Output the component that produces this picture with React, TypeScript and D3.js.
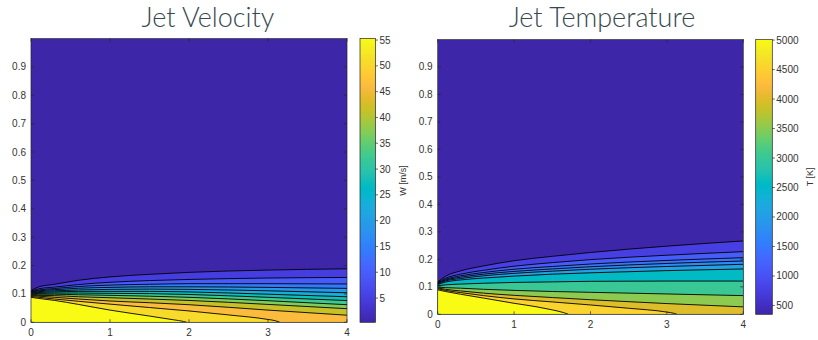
import React from 'react';
import * as d3 from 'd3';

// MATLAB parula (R2014b) colormap, 64 entries
const PARULA: number[][] = [
  [0.2422, 0.1504, 0.6603], [0.2504, 0.165, 0.7076], [0.2578, 0.1818, 0.7511], [0.2647, 0.1978, 0.7952],
  [0.2706, 0.2147, 0.8364], [0.2751, 0.2342, 0.871], [0.2783, 0.2559, 0.8991], [0.2803, 0.2782, 0.9221],
  [0.2813, 0.3006, 0.9414], [0.281, 0.3228, 0.9579], [0.2795, 0.3447, 0.9717], [0.276, 0.3667, 0.9829],
  [0.2699, 0.3892, 0.9906], [0.2602, 0.4123, 0.9952], [0.244, 0.4358, 0.9988], [0.2206, 0.4603, 0.9973],
  [0.1963, 0.4847, 0.9892], [0.1834, 0.5074, 0.9798], [0.1786, 0.5289, 0.9682], [0.1764, 0.5499, 0.952],
  [0.1687, 0.5703, 0.9359], [0.154, 0.5902, 0.9218], [0.146, 0.6091, 0.9079], [0.138, 0.6276, 0.8973],
  [0.1248, 0.6459, 0.8883], [0.1113, 0.6635, 0.8763], [0.0952, 0.6798, 0.8598], [0.0689, 0.6948, 0.8394],
  [0.0297, 0.7082, 0.8163], [0.0036, 0.7203, 0.7917], [0.0067, 0.7312, 0.766], [0.0433, 0.7411, 0.7394],
  [0.0964, 0.75, 0.712], [0.1408, 0.7584, 0.6842], [0.1717, 0.767, 0.6554], [0.1938, 0.7758, 0.6251],
  [0.2161, 0.7843, 0.5923], [0.247, 0.7918, 0.5567], [0.2906, 0.7973, 0.5188], [0.3406, 0.8008, 0.4789],
  [0.3909, 0.8029, 0.4354], [0.4456, 0.8024, 0.3909], [0.5044, 0.7993, 0.348], [0.5616, 0.7942, 0.3045],
  [0.6174, 0.7876, 0.2612], [0.672, 0.7793, 0.2227], [0.7242, 0.7698, 0.191], [0.7738, 0.7598, 0.1646],
  [0.8203, 0.7498, 0.1535], [0.8634, 0.7406, 0.1596], [0.9035, 0.733, 0.1774], [0.9393, 0.7288, 0.21],
  [0.9728, 0.7298, 0.2394], [0.9956, 0.7434, 0.2371], [0.997, 0.7659, 0.2199], [0.9952, 0.7893, 0.2028],
  [0.9892, 0.8136, 0.1885], [0.9786, 0.8386, 0.1766], [0.9676, 0.8639, 0.1643], [0.961, 0.889, 0.1537],
  [0.9597, 0.9135, 0.1423], [0.9628, 0.9373, 0.1265], [0.9691, 0.9606, 0.1064], [0.9769, 0.9839, 0.0805],
];
const parulaColors = PARULA.map(c => d3.rgb(c[0] * 255, c[1] * 255, c[2] * 255).formatHex());
const parula = d3.piecewise(d3.interpolateRgb, parulaColors);

// axis ticks
const xTickValues = [0, 1, 2, 3, 4];
const yTickValues = [0, 0.1, 0.2, 0.3, 0.4, 0.5, 0.6, 0.7, 0.8, 0.9];
const velColorTicks = [5, 10, 15, 20, 25, 30, 35, 40, 45, 50, 55];
const tempColorTicks = [500, 1000, 1500, 2000, 2500, 3000, 3500, 4000, 4500, 5000];

// colour limits
const velClim = [0.3, 55.3];
const tempClim = [350, 5010];

// ---------- Jet velocity contours (W in m/s) ----------
const velLevels = [4.9, 9.5, 14.1, 18.6, 23.2, 27.8, 32.4, 36.9, 41.5, 46.1, 50.7, 55.3];
const velGridX = [0, 0.1, 0.3, 0.6, 1, 1.5, 2, 3, 4];
const velFullR = [
  [0.112, 0.125, 0.134, 0.148, 0.160, 0.169, 0.176, 0.184, 0.1885],
  [0.110, 0.118, 0.124, 0.133, 0.141, 0.147, 0.151, 0.156, 0.158],
  [0.108, 0.114, 0.119, 0.126, 0.131, 0.134, 0.136, 0.136, 0.135],
  [0.106, 0.111, 0.115, 0.120, 0.123, 0.125, 0.125, 0.123, 0.1195],
  [0.104, 0.108, 0.111, 0.114, 0.116, 0.117, 0.116, 0.111, 0.104],
  [0.102, 0.105, 0.107, 0.109, 0.109, 0.109, 0.107, 0.099, 0.090],
  [0.100, 0.102, 0.103, 0.103, 0.102, 0.101, 0.098, 0.088, 0.0766],
  [0.098, 0.099, 0.099, 0.097, 0.095, 0.092, 0.088, 0.076, 0.062],
  [0.096, 0.095, 0.094, 0.090, 0.0866, 0.082, 0.077, 0.063, 0.048],
  [0.094, 0.092, 0.088, 0.082, 0.075, 0.069, 0.062, 0.043, 0.025],
];
const velInnerX = [
  [0, 0.1, 0.3, 0.6, 1, 1.5, 2, 2.5, 3, 3.1, 3.15],
  [0, 0.1, 0.3, 0.6, 1, 1.5, 1.8, 1.93, 1.97],
];
const velInnerR = [
  [0.091, 0.088, 0.082, 0.074, 0.064, 0.052, 0.040, 0.026, 0.010, 0.005, 0],
  [0.088, 0.084, 0.077, 0.063, 0.043, 0.022, 0.009, 0.003, 0],
];

// ---------- Jet temperature contours (T in K) ----------
const tempLevels = [760, 1150, 1450, 1750, 2080, 2560, 3030, 3520, 3990, 4530, 5010];
const tempGridX = [0, 0.1, 0.3, 0.6, 1, 1.5, 2, 3, 4];
const tempFullR = [
  [0.118, 0.138, 0.158, 0.176, 0.195, 0.211, 0.225, 0.248, 0.267],
  [0.116, 0.131, 0.146, 0.160, 0.175, 0.188, 0.199, 0.215, 0.228],
  [0.114, 0.127, 0.140, 0.152, 0.164, 0.174, 0.183, 0.196, 0.206],
  [0.112, 0.124, 0.135, 0.146, 0.156, 0.165, 0.173, 0.185, 0.194],
  [0.110, 0.121, 0.130, 0.140, 0.149, 0.157, 0.164, 0.174, 0.182],
  [0.108, 0.117, 0.125, 0.132, 0.139, 0.146, 0.151, 0.159, 0.165],
  [0.104, 0.107, 0.110, 0.113, 0.116, 0.118, 0.120, 0.121, 0.121],
  [0.099, 0.097, 0.095, 0.091, 0.087, 0.083, 0.080, 0.074, 0.068],
  [0.096, 0.091, 0.085, 0.077, 0.069, 0.061, 0.053, 0.039, 0.027],
];
const tempInnerX = [
  [0, 0.1, 0.3, 0.6, 1, 1.5, 2, 2.5, 3, 3.1, 3.13],
  [0, 0.1, 0.3, 0.6, 1, 1.3, 1.5, 1.65, 1.71],
];
const tempInnerR = [
  [0.093, 0.087, 0.079, 0.068, 0.056, 0.045, 0.034, 0.022, 0.008, 0.003, 0],
  [0.089, 0.083, 0.073, 0.059, 0.040, 0.027, 0.016, 0.006, 0],
];

type Pt = [number, number];

function buildLines(gridX: number[], fullR: number[][], innerX: number[][], innerR: number[][]): Pt[][] {
  const out: Pt[][] = fullR.map(r => gridX.map((x, i) => [x, r[i]] as Pt));
  innerX.forEach((xs, k) => out.push(xs.map((x, i) => [x, innerR[k][i]] as Pt)));
  return out;
}

const AX = '#262626';
const TXT = '#333333';
const TICK_FONT = '"Liberation Sans", Arial, Helvetica, sans-serif';

interface PanelProps {
  id: string;
  x0: number; x1: number; yTop: number; yBot: number;
  cbX0: number; cbX1: number;
  lines: Pt[][]; levels: number[]; clim: number[];
  cbTicks: number[]; cbLabel: string; cbLabelX: number;
  title: string; titleX: number;
}

function Panel(p: PanelProps) {
  const xs = d3.scaleLinear().domain([0, 4]).range([p.x0, p.x1]);
  const ys = d3.scaleLinear().domain([0, 1]).range([p.yBot, p.yTop]);
  const cs = d3.scaleLinear().domain(p.clim).range([p.yBot, p.yTop]);
  const color = (v: number) => parula(Math.max(0, Math.min(1, (v - p.clim[0]) / (p.clim[1] - p.clim[0]))));
  const area = d3.area<Pt>().x(d => xs(d[0])).y0(ys(0)).y1(d => ys(d[1])).curve(d3.curveMonotoneX);
  const line = d3.line<Pt>().x(d => xs(d[0])).y(d => ys(d[1])).curve(d3.curveMonotoneX);
  const tl = 3;
  const gid = `grad-${p.id}`;
  const cid = `clip-${p.id}`;
  return (
    <g>
      <defs>
        <clipPath id={cid}>
          <rect x={p.x0} y={p.yTop} width={p.x1 - p.x0} height={p.yBot - p.yTop} />
        </clipPath>
        <linearGradient id={gid} x1="0" y1="1" x2="0" y2="0">
          {parulaColors.map((c, i) => (
            <stop key={i} offset={`${(i / (parulaColors.length - 1)) * 100}%`} stopColor={c} />
          ))}
        </linearGradient>
      </defs>
      <g clipPath={`url(#${cid})`}>
        <rect x={p.x0} y={p.yTop} width={p.x1 - p.x0} height={p.yBot - p.yTop} fill={color(p.clim[0])} />
        {p.lines.map((pts, k) => (
          <path key={`a${k}`} d={area(pts) || ''} fill={color(p.levels[k])} />
        ))}
        {p.lines.map((pts, k) => (
          <path key={`l${k}`} d={line(pts) || ''} fill="none" stroke="#000" strokeWidth={0.9} />
        ))}
      </g>
      {/* axes box */}
      <rect x={p.x0} y={p.yTop} width={p.x1 - p.x0} height={p.yBot - p.yTop} fill="none" stroke={AX} strokeWidth={0.7} />
      {xTickValues.map(v => (
        <g key={`xt${v}`}>
          <line x1={xs(v)} x2={xs(v)} y1={p.yBot} y2={p.yBot - tl} stroke={AX} strokeWidth={0.7} />
          <line x1={xs(v)} x2={xs(v)} y1={p.yTop} y2={p.yTop + tl} stroke={AX} strokeWidth={0.7} />
          <text x={xs(v)} y={p.yBot + 14} textAnchor="middle" fontFamily={TICK_FONT} fontSize={10} fill={TXT}>{v}</text>
        </g>
      ))}
      {yTickValues.map(v => (
        <g key={`yt${v}`}>
          <line x1={p.x0} x2={p.x0 + tl} y1={ys(v)} y2={ys(v)} stroke={AX} strokeWidth={0.7} />
          <line x1={p.x1} x2={p.x1 - tl} y1={ys(v)} y2={ys(v)} stroke={AX} strokeWidth={0.7} />
          <text x={p.x0 - 5} y={ys(v) + 3.5} textAnchor="end" fontFamily={TICK_FONT} fontSize={10} fill={TXT}>{String(+v.toFixed(1))}</text>
        </g>
      ))}
      {/* colorbar */}
      <rect x={p.cbX0} y={p.yTop} width={p.cbX1 - p.cbX0} height={p.yBot - p.yTop} fill={`url(#${gid})`} stroke={AX} strokeWidth={0.7} />
      {p.cbTicks.map(v => (
        <g key={`ct${v}`}>
          <line x1={p.cbX1} x2={p.cbX1 + 2.5} y1={cs(v)} y2={cs(v)} stroke={AX} strokeWidth={0.7} />
          <text x={p.cbX1 + 4} y={cs(v) + 3.5} fontFamily={TICK_FONT} fontSize={10} fill={TXT}>{v}</text>
        </g>
      ))}
      <text transform={`translate(${p.cbLabelX},${(p.yTop + p.yBot) / 2}) rotate(-90)`} textAnchor="middle"
        fontFamily={TICK_FONT} fontSize={9} fill={TXT}>{p.cbLabel}</text>
      <text x={p.titleX} y={26.5} textAnchor="middle" fontFamily='Lato, "Open Sans", sans-serif' fontWeight={300}
        fontSize={27} fill="#37474f">{p.title}</text>
    </g>
  );
}

export default function App() {
  const velLines = buildLines(velGridX, velFullR, velInnerX, velInnerR);
  const tempLines = buildLines(tempGridX, tempFullR, tempInnerX, tempInnerR);
  return (
    <svg width={818} height={340} style={{ position: 'absolute', left: 0, top: 0, background: '#fff' }}>
      <Panel id="vel" x0={31} x1={347} yTop={38.5} yBot={322.3} cbX0={360} cbX1={375.5}
        lines={velLines} levels={velLevels} clim={velClim} cbTicks={velColorTicks}
        cbLabel="W [m/s]" cbLabelX={406} title="Jet Velocity" titleX={208} />
      <Panel id="temp" x0={437.7} x1={743.3} yTop={39.5} yBot={314.3} cbX0={755.7} cbX1={772.3}
        lines={tempLines} levels={tempLevels} clim={tempClim} cbTicks={tempColorTicks}
        cbLabel="T [K]" cbLabelX={813} title="Jet Temperature" titleX={602} />
    </svg>
  );
}
